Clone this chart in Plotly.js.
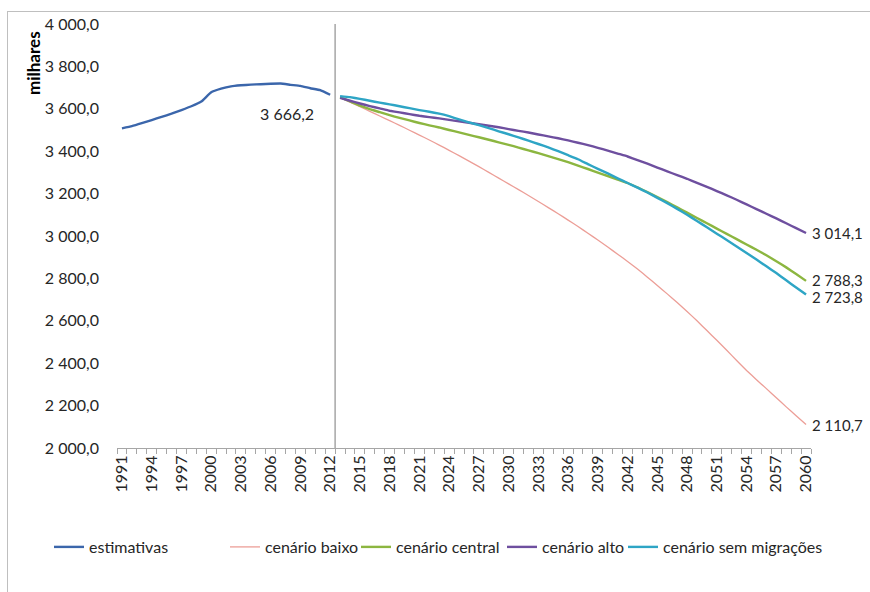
<!DOCTYPE html>
<html>
<head>
<meta charset="utf-8">
<script src="https://cdn.plot.ly/plotly-3.0.1.min.js"></script>
<style>
  html, body { margin: 0; padding: 0; background: #ffffff; overflow: hidden; }
  #chart { position: absolute; left: 0; top: 0; width: 870px; height: 592px; }
  #frame { position: absolute; left: 7px; top: 11px; width: 900px; height: 620px;
           border: 1px solid #bfbfbf; pointer-events: none; }
</style>
</head>
<body>
<div id="chart"></div>
<div id="frame"></div>
<script>
// ---- data ----
const yearsEst = [1991,1992,1993,1994,1995,1996,1997,1998,1999,2000,2001,2002,2003,2004,2005,2006,2007,2008,2009,2010,2011,2012];
const estimativas = [3508,3518,3532,3547,3562,3577,3594,3612,3634,3678,3695,3706,3711,3714,3716,3718,3719,3713,3708,3697,3688,3666.2];

const yearsProj = [2013,2014,2015,2016,2017,2018,2019,2020,2021,2022,2023,2024,2025,2026,2027,2028,2029,2030,2031,2032,2033,2034,2035,2036,2037,2038,2039,2040,2041,2042,2043,2044,2045,2046,2047,2048,2049,2050,2051,2052,2053,2054,2055,2056,2057,2058,2059,2060];
const cenarioBaixo = [3652,3631,3610,3588,3566,3544,3522,3499,3476,3453,3429,3404,3379,3353,3327,3300,3273,3246,3219,3191,3163,3134,3105,3075,3045,3013,2981,2948,2914,2880,2844,2806,2767,2727,2686,2644,2600,2554,2508,2461,2413,2366,2322,2280,2237,2194,2152,2110.7];
const cenarioCentral = [3655,3635,3615,3598,3584,3570,3557,3545,3533,3522,3512,3500,3489,3477,3466,3454,3442,3430,3417,3404,3391,3377,3363,3348,3332,3316,3299,3283,3266,3250,3229,3207,3184,3160,3135,3110,3085,3060,3035,3010,2985,2960,2935,2909,2881,2852,2821,2788.3];
const cenarioAlto = [3652,3638,3625,3613,3602,3591,3583,3575,3567,3561,3555,3548,3541,3534,3527,3520,3513,3504,3496,3488,3479,3470,3461,3451,3440,3429,3416,3403,3389,3375,3358,3341,3323,3305,3287,3270,3251,3232,3212,3192,3171,3149,3127,3105,3083,3060,3037,3014.1];
const cenarioSemMigracoes = [3660,3655,3647,3638,3629,3621,3612,3603,3594,3586,3577,3565,3550,3536,3523,3509,3494,3480,3465,3450,3434,3418,3400,3381,3362,3339,3317,3295,3272,3250,3228,3205,3180,3155,3128,3100,3071,3041,3011,2981,2951,2920,2889,2857,2825,2791,2757,2723.8];

const seriesNames = ["estimativas","cenário baixo","cenário central","cenário alto","cenário sem migrações"];
const tickYears = [1991,1994,1997,2000,2003,2006,2009,2012,2015,2018,2021,2024,2027,2030,2033,2036,2039,2042,2045,2048,2051,2054,2057,2060];
const yTicks = [2000,2200,2400,2600,2800,3000,3200,3400,3600,3800,4000];
const yAxisLabel = "milhares";
const splitYear = 2012.5;

// ---- styles ----
const FONT = "Lato, 'Open Sans', sans-serif";
const colors = ["#3b66ab","#ec9e97","#8cb640","#6e4f9f","#2ea5c5"];
const widths = [2.4,1.3,2.4,2.4,2.4];
const TXT = "#262626";

function fmt(v) {
  const s = v.toFixed(1).replace('.', ',');
  const [i, d] = s.split(',');
  return i.replace(/\B(?=(\d{3})+(?!\d))/g, ' ') + ',' + d;
}

const xs = [yearsEst, yearsProj, yearsProj, yearsProj, yearsProj];
const ys = [estimativas, cenarioBaixo, cenarioCentral, cenarioAlto, cenarioSemMigracoes];
const legendIds = ["legend","legend2","legend3","legend4","legend5"];

const traces = ys.map((y, k) => ({
  type: "scatter", mode: "lines",
  x: xs[k], y: y, name: seriesNames[k],
  line: { color: colors[k], width: widths[k], shape: "spline", smoothing: 0.3 },
  legend: legendIds[k],
  hoverinfo: "skip"
}));

// plot area geometry (px)
const L = 117, T = 24, W = 694, H = 424;
const px2paper = (px) => (px - L) / W;
const legendStarts = [49, 225, 356, 502, 623];
const legendFont = { family: FONT, size: 16, color: TXT };

const layout = {
  width: 870, height: 592,
  margin: { l: L, r: 870 - L - W, t: T, b: 592 - T - H, pad: 0 },
  paper_bgcolor: "rgba(0,0,0,0)",
  plot_bgcolor: "#ffffff",
  font: { family: FONT, size: 16, color: TXT },
  separators: ", ",
  showlegend: true,
  xaxis: {
    range: [1990.5, 2060.5],
    tickmode: "array", tickvals: tickYears, ticktext: tickYears.map(String),
    tickangle: -90, ticks: "", showgrid: false, zeroline: false,
    showline: true, linecolor: "#a6a6a6", linewidth: 1,
    tickfont: { family: FONT, size: 16, color: TXT },
    minor: { ticks: "outside", tick0: 1990.5, dtick: 1, ticklen: 5, tickcolor: "#a6a6a6", tickwidth: 1, showgrid: false },
    fixedrange: true
  },
  yaxis: {
    range: [2000, 4000],
    tickmode: "array", tickvals: yTicks, tickformat: ",.1f",
    ticks: "", showgrid: false, zeroline: false, showline: false,
    ticklabelstandoff: 17,
    tickfont: { family: FONT, size: 16, color: TXT },
    fixedrange: true
  },
  shapes: [{
    type: "line", xref: "x", yref: "paper",
    x0: splitYear, x1: splitYear, y0: 0, y1: 1,
    line: { color: "#a6a6a6", width: 1.5 }
  }],
  annotations: [
    {
      xref: "paper", yref: "paper", x: px2paper(34), y: (T + H - 63) / H,
      text: "<b>" + yAxisLabel + "</b>", textangle: -90, showarrow: false,
      font: { family: FONT, size: 17, color: "#000000" }, xanchor: "center", yanchor: "middle"
    },
    {
      x: yearsEst[yearsEst.length - 1], y: estimativas[estimativas.length - 1],
      text: fmt(estimativas[estimativas.length - 1]), showarrow: false,
      xanchor: "right", yanchor: "top", xshift: -14, yshift: -7,
      font: { family: FONT, size: 16, color: TXT }
    }
  ].concat([
    [cenarioAlto, 0], [cenarioCentral, 1], [cenarioSemMigracoes, -2], [cenarioBaixo, 0]
  ].map(([arr, dy]) => ({
    x: yearsProj[yearsProj.length - 1], y: arr[arr.length - 1],
    text: fmt(arr[arr.length - 1]), showarrow: false,
    xanchor: "left", yanchor: "middle", xshift: 4, yshift: dy,
    font: { family: FONT, size: 15, color: TXT }
  })))
};

legendIds.forEach((id, k) => {
  layout[id] = {
    x: px2paper(legendStarts[k]), xref: "paper", xanchor: "left",
    y: (592 - 547) / 592, yref: "container", yanchor: "middle",
    orientation: "h", bgcolor: "rgba(0,0,0,0)", borderwidth: 0,
    font: legendFont, itemwidth: 30, tracegroupgap: 0
  };
});

Plotly.newPlot("chart", traces, layout, { staticPlot: true, displayModeBar: false });
</script>
</body>
</html>
